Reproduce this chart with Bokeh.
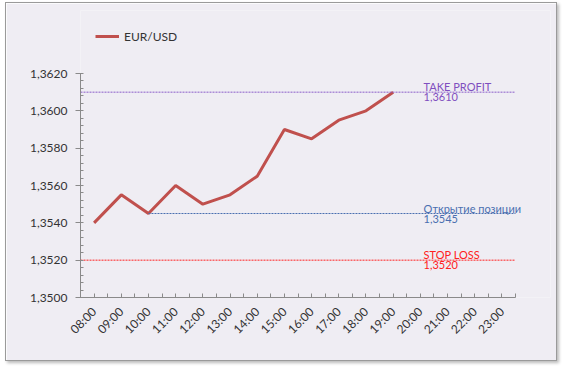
import math
from bokeh.plotting import figure
from bokeh.models import FixedTicker, CustomJSTickFormatter, Legend, LegendItem, Range1d
from bokeh.core.properties import value
from bokeh.embed import file_html
from bokeh.resources import INLINE

hours = ["08:00", "09:00", "10:00", "11:00", "12:00", "13:00", "14:00", "15:00",
         "16:00", "17:00", "18:00", "19:00", "20:00", "21:00", "22:00", "23:00"]
rates = [1.3540, 1.3555, 1.3545, 1.3560, 1.3550, 1.3555, 1.3565, 1.3590,
         1.3585, 1.3595, 1.3600, 1.3610]
take_profit = 1.3610
open_pos = 1.3545
stop_loss = 1.3520
open_start_hour = "10:00"
y_ticks = [1.3500, 1.3520, 1.3540, 1.3560, 1.3580, 1.3600, 1.3620]

FONT = "Lato"
BG = "#EFEDF3"

n = len(hours)
ppu_x = 435 / n
ppu_y = 224 / (y_ticks[-1] - y_ticks[0])
x_end = n + 35 / ppu_x
y_end = y_ticks[-1] + 63 / ppu_y

p = figure(width=552, height=359, output_backend="svg", toolbar_location=None,
           x_range=Range1d(0, x_end), y_range=Range1d(y_ticks[0], y_end),
           min_border_left=74, min_border_right=8, min_border_top=7, min_border_bottom=65)
p.background_fill_color = BG
p.border_fill_color = BG
p.outline_line_color = None
p.grid.visible = False
p.styles = {"border": "1px solid #9a9a9a", "box-shadow": "2px 2px 3px #bbbbbb",
            "margin-left": "5px", "margin-top": "2px"}

xc = [i + 0.5 for i in range(len(rates))]
r = p.line(xc, rates, line_color="#C0504D", line_width=3)

DASH = "2 1"
p.segment(x0=[0], y0=[take_profit], x1=[n], y1=[take_profit], line_color="#8A5CC8", line_dash=DASH, line_width=1)
xs_open = hours.index(open_start_hour) + 0.5
p.segment(x0=[xs_open], y0=[open_pos], x1=[n], y1=[open_pos], line_color="#4A6FB0", line_dash=DASH, line_width=1)
p.segment(x0=[0], y0=[stop_loss], x1=[n], y1=[stop_loss], line_color="#FF2020", line_dash=DASH, line_width=1)

lab_x = 12.62
def labels(name, val, color):
    p.text(x=[lab_x], y=[val], text=[name], text_color=color, text_font=value(FONT),
           text_font_size="11px", text_baseline="bottom", text_align="left", y_offset=1)
    p.text(x=[lab_x], y=[val], text=[("%.4f" % val).replace(".", ",")], text_color=color,
           text_font=value(FONT), text_font_size="11px", text_baseline="top", text_align="left", y_offset=1)

labels("TAKE PROFIT", take_profit, "#7F4FBF")
labels("Открытие позиции", open_pos, "#4A6FB0")
labels("STOP LOSS", stop_loss, "#FF2020")

# axes
p.xaxis.ticker = FixedTicker(ticks=[i + 0.5 for i in range(n)], minor_ticks=list(range(n + 1)))
p.xaxis.major_label_overrides = {i + 0.5: h for i, h in enumerate(hours)}
p.xaxis.major_label_orientation = math.pi / 4
p.xaxis.bounds = (0, n)
p.yaxis.ticker = FixedTicker(ticks=y_ticks, minor_ticks=[round(1.35 + 0.0004 * k, 4) for k in range(31)])
p.yaxis.formatter = CustomJSTickFormatter(code="return tick.toFixed(4).replace('.', ',');")
p.yaxis.bounds = (y_ticks[0], y_ticks[-1])
for ax in (p.xaxis[0], p.yaxis[0]):
    ax.axis_line_color = "#8a8a8a"
    ax.major_tick_line_color = "#8a8a8a"
    ax.minor_tick_line_color = "#8a8a8a"
    ax.major_label_text_font = FONT
    ax.major_label_text_font_size = "12px"
    ax.major_label_text_color = "#333333"
    ax.major_label_text_font_style = "normal"
p.yaxis.major_tick_out = 5
p.yaxis.major_tick_in = 2
p.yaxis.minor_tick_in = 3
p.yaxis.minor_tick_out = 0
p.xaxis.major_tick_out = 0
p.xaxis.major_tick_in = 4
p.xaxis.minor_tick_in = 4
p.xaxis.minor_tick_out = 0
p.xaxis.major_label_standoff = 12
p.yaxis.major_label_standoff = 8

legend = Legend(items=[LegendItem(label="EUR/USD", renderers=[r])], location=(15, 251),
                background_fill_alpha=0, border_line_color=None, padding=0, margin=0,
                label_text_font=FONT, label_text_font_size="12px", label_text_color="#333333",
                glyph_width=24, label_standoff=5, orientation="horizontal")
p.add_layout(legend, "center")

open("out.html", "w").write(file_html(p, INLINE))
